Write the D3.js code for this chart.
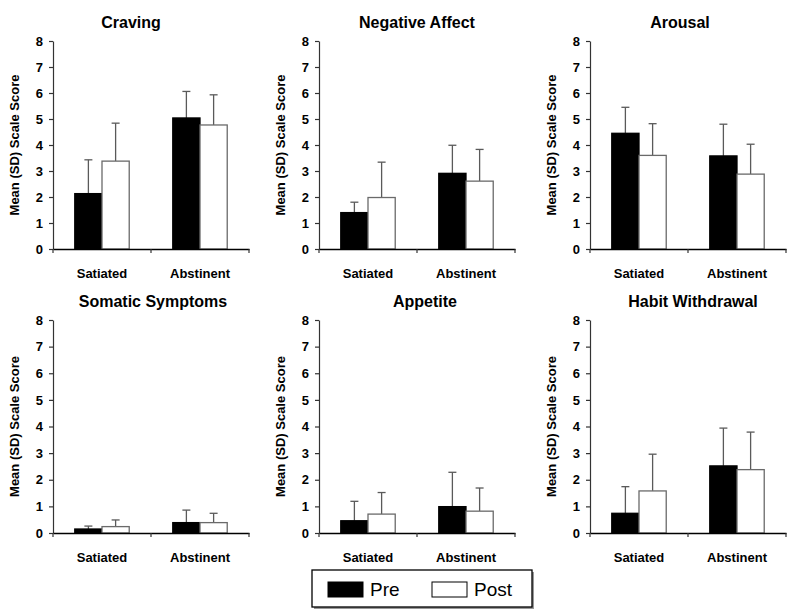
<!DOCTYPE html>
<html>
<head>
<meta charset="utf-8">
<script src="https://cdn.jsdelivr.net/npm/d3@7"></script>
<style>
  body { margin: 0; background: #fff; }
  text { font-family: "Liberation Sans", Arial, sans-serif; }
</style>
</head>
<body>
<svg id="chart" width="800" height="612"></svg>
<script>
// panel titles, conditions, series
const panels = ["Craving", "Negative Affect", "Arousal", "Somatic Symptoms", "Appetite", "Habit Withdrawal"];
const conditions = ["Satiated", "Abstinent"];
const series = ["Pre", "Post"];
const yTicks = [0, 1, 2, 3, 4, 5, 6, 7, 8];

// means [Satiated, Abstinent] per panel
const preMean = [[2.13, 5.04], [1.40, 2.91], [4.45, 3.58], [0.15, 0.39], [0.46, 0.99], [0.74, 2.52]];
const postMean = [[3.38, 4.77], [1.98, 2.61], [3.60, 2.88], [0.24, 0.39], [0.71, 0.82], [1.58, 2.38]];
// SDs (drawn upward only)
const preSD = [[1.30, 1.02], [0.40, 1.08], [1.00, 1.22], [0.11, 0.47], [0.73, 1.29], [1.00, 1.42]];
const postSD = [[1.46, 1.16], [1.36, 1.22], [1.22, 1.15], [0.25, 0.35], [0.81, 0.87], [1.38, 1.41]];

const svg = d3.select("#chart");

// layout: axis origin of each panel
const colX = [53, 319, 590];
const rowTop = [41, 320];
const rowH = [208, 213];
const plotW = 196;
const titleDx = [-20, 0, -8, 2, 8, 5];

const x = d3.scaleBand().domain(conditions).range([0, plotW]);
const xs = d3.scaleBand().domain(series).range([0, x.bandwidth()]).paddingOuter(0.8);
const fill = { Pre: "#000", Post: "#fff" };

panels.forEach(function(name, i) {
  const r = Math.floor(i / 3);
  const plotH = rowH[r];
  const y = d3.scaleLinear().domain([0, 8]).range([plotH, 0]);
  const g = svg.append("g")
    .attr("transform", "translate(" + colX[i % 3] + "," + rowTop[r] + ")");

  const rows = [];
  conditions.forEach(function(c, j) {
    rows.push({ cond: c, s: "Pre", m: preMean[i][j], sd: preSD[i][j] });
    rows.push({ cond: c, s: "Post", m: postMean[i][j], sd: postSD[i][j] });
  });

  // error bars (behind bars)
  const eb = g.selectAll(".err").data(rows).enter().append("g").attr("class", "err")
    .attr("stroke", "#5a5a5a").attr("stroke-width", 1.3);
  eb.append("line")
    .attr("x1", d => x(d.cond) + xs(d.s) + xs.bandwidth() / 2)
    .attr("x2", d => x(d.cond) + xs(d.s) + xs.bandwidth() / 2)
    .attr("y1", d => y(d.m))
    .attr("y2", d => y(d.m + d.sd));
  eb.append("line")
    .attr("x1", d => x(d.cond) + xs(d.s) + xs.bandwidth() / 2 - 4)
    .attr("x2", d => x(d.cond) + xs(d.s) + xs.bandwidth() / 2 + 4)
    .attr("y1", d => y(d.m + d.sd))
    .attr("y2", d => y(d.m + d.sd));

  g.selectAll(".bar").data(rows).enter().append("rect").attr("class", "bar")
    .attr("x", d => x(d.cond) + xs(d.s))
    .attr("width", xs.bandwidth())
    .attr("y", d => y(d.m))
    .attr("height", d => y(0) - y(d.m))
    .attr("fill", d => fill[d.s])
    .attr("stroke", d => d.s === "Pre" ? "#000" : "#6a6a6a")
    .attr("stroke-width", 1.3);

  // y axis
  const ya = g.append("g")
    .call(d3.axisLeft(y).tickValues(yTicks).tickSize(4).tickSizeOuter(0).tickPadding(6));
  ya.selectAll("path, line").attr("stroke", "#333").attr("stroke-width", 1.2);
  ya.selectAll("text").attr("font-size", 13).attr("font-weight", "bold").attr("fill", "#000");

  // x axis
  const xa = g.append("g").attr("transform", "translate(0," + plotH + ")")
    .call(d3.axisBottom(x).tickSize(0).tickSizeOuter(0).tickPadding(20));
  xa.selectAll("path").attr("stroke", "#000").attr("stroke-width", 1.3);
  xa.selectAll("text").attr("font-size", 13).attr("fill", "#000").attr("font-weight", 600);
  g.selectAll(".bt").data(conditions.map(c => x(c)).concat([plotW])).enter().append("line")
    .attr("x1", d => d).attr("x2", d => d)
    .attr("y1", plotH).attr("y2", plotH + 4)
    .attr("stroke", "#333").attr("stroke-width", 1.2);

  g.append("text")
    .attr("transform", "translate(-34," + (plotH / 2) + ") rotate(-90)")
    .attr("text-anchor", "middle")
    .attr("font-size", 13).attr("font-weight", "bold")
    .text("Mean (SD) Scale Score");

  g.append("text")
    .attr("x", plotW / 2 + titleDx[i]).attr("y", -13)
    .attr("text-anchor", "middle")
    .attr("font-size", 16).attr("font-weight", "bold")
    .text(name);
});

// legend
const lg = svg.append("g").attr("transform", "translate(312,570)");
lg.append("rect").attr("x", 2).attr("y", 2).attr("width", 220).attr("height", 37).attr("fill", "#999");
lg.append("rect").attr("width", 220).attr("height", 37).attr("fill", "#fff")
  .attr("stroke", "#000").attr("stroke-width", 1.3);
const li = lg.selectAll(".li").data(series).enter().append("g")
  .attr("transform", (d, k) => "translate(" + (16 + k * 104) + ",12)");
li.append("rect").attr("width", 35).attr("height", 15)
  .attr("fill", d => fill[d]).attr("stroke", "#000").attr("stroke-width", 1);
li.append("text").attr("x", 42).attr("y", 14).attr("font-size", 19).text(d => d);
</script>
</body>
</html>
